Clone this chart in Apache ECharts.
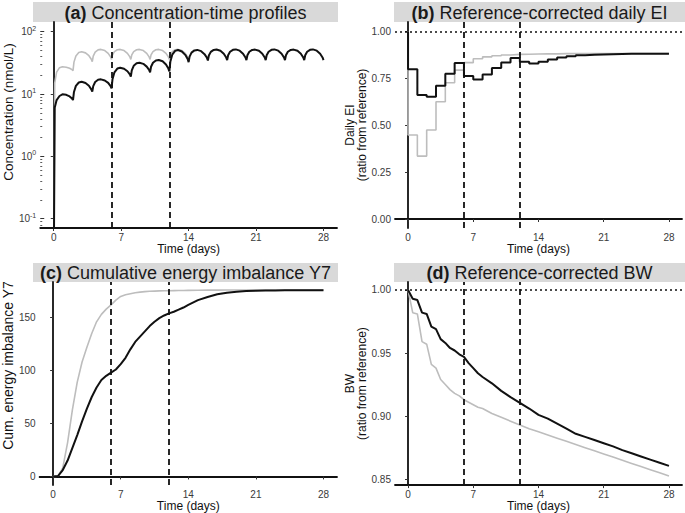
<!DOCTYPE html>
<html>
<head>
<meta charset="utf-8">
<script src="https://cdn.jsdelivr.net/npm/echarts@6/dist/echarts.min.js"></script>
<style>
  html, body { margin: 0; padding: 0; background: #fff; }
  #chart { width: 685px; height: 513px; }
</style>
</head>
<body>
<div id="chart"></div>
<script>
// regimen changes (dashed lines) and shared time ticks
var phaseDays = [6, 12];
var dayTicks = [0, 7, 14, 21, 28];

// (a) concentration-time profiles, nmol/L
var concDays = [
  0, 0.1, 0.3, 0.6, 0.9, 1.3, 1.65, 1.9,
  2, 2.1, 2.3, 2.6, 2.9, 3.3, 3.65, 3.9,
  4, 4.1, 4.3, 4.6, 4.9, 5.3, 5.65, 5.9,
  6, 6.1, 6.3, 6.6, 6.9, 7.3, 7.65, 7.9,
  8, 8.1, 8.3, 8.6, 8.9, 9.3, 9.65, 9.9,
  10, 10.1, 10.3, 10.6, 10.9, 11.3, 11.65, 11.9,
  12, 12.1, 12.3, 12.6, 12.9, 13.3, 13.65, 13.9,
  14, 14.1, 14.3, 14.6, 14.9, 15.3, 15.65, 15.9,
  16, 16.1, 16.3, 16.6, 16.9, 17.3, 17.65, 17.9,
  18, 18.1, 18.3, 18.6, 18.9, 19.3, 19.65, 19.9,
  20, 20.1, 20.3, 20.6, 20.9, 21.3, 21.65, 21.9,
  22, 22.1, 22.3, 22.6, 22.9, 23.3, 23.65, 23.9,
  24, 24.1, 24.3, 24.6, 24.9, 25.3, 25.65, 25.9,
  26, 26.1, 26.3, 26.6, 26.9, 27.3, 27.65, 27.9,
  28
];
var concBlack = [
  0.01, 6.0, 8.0, 9.3, 9.9, 9.7, 9.15, 8.45,
  8.0, 10.8, 13.5, 15.3, 15.7, 15.0, 13.6, 11.9,
  10.9, 13.4, 15.6, 16.9, 17.2, 16.5, 15.1, 13.4,
  12.3, 17.3, 22.3, 25.6, 26.4, 25.4, 23.2, 20.6,
  19.0, 23.9, 28.4, 31.1, 31.8, 30.5, 27.5, 24.4,
  22.3, 27.4, 31.8, 34.6, 35.2, 33.5, 29.7, 25.6,
  23.0, 32.9, 42.7, 49.2, 50.8, 48.2, 42.5, 36.4,
  32.5, 39.8, 46.2, 50.1, 51.0, 48.7, 43.6, 38.1,
  34.5, 41.5, 47.4, 51.0, 51.8, 49.4, 44.2, 38.5,
  35.0, 41.8, 47.6, 51.2, 52.0, 49.6, 44.4, 38.6,
  35.0, 41.8, 47.6, 51.0, 51.6, 49.4, 44.3, 38.6,
  35.0, 41.8, 47.6, 51.2, 52.0, 49.6, 44.4, 38.6,
  35.0, 41.8, 47.6, 51.0, 51.6, 49.4, 44.3, 38.6,
  35.0, 41.8, 47.6, 51.2, 52.0, 49.6, 44.4, 38.6,
  35.0
];
var concGrey = [
  0.01, 15.0, 22.5, 26.5, 27.4, 26.9, 25.9, 24.6,
  23.7, 32.5, 40.9, 46.4, 47.7, 45.7, 41.2, 36.2,
  33.0, 40.5, 47.1, 51.1, 52.0, 49.8, 44.9, 39.4,
  36.0, 42.5, 48.0, 51.3, 52.0, 49.8, 44.9, 39.4,
  36.0, 42.5, 48.0, 51.3, 52.0, 49.8, 44.9, 39.4,
  36.0, 42.5, 48.0, 51.3, 52.0, 49.8, 44.9, 39.4,
  36.0, 42.5, 48.0, 51.3, 52.0, 49.8, 44.9, 39.4,
  34.0
];
var concTicks = [0.1, 1, 10, 100];
var concMinorTicks = [0.08, 0.09, 0.2, 0.3, 0.4, 0.5, 0.6, 0.7, 0.8, 0.9,
  2, 3, 4, 5, 6, 7, 8, 9, 20, 30, 40, 50, 60, 70, 80, 90];

// (b) reference-corrected daily EI (value of each day's step)
var eiDays = [0, 1, 2, 3, 4, 5, 6, 7, 8, 9, 10, 11, 12, 13, 14, 15, 16, 17, 18, 19, 20, 21, 22, 23, 24, 25, 26, 27, 28];
var eiBlack = [1.00, 0.80, 0.662, 0.653, 0.712, 0.775, 0.833, 0.763, 0.745, 0.772, 0.806, 0.836, 0.860, 0.840, 0.831,
  0.840, 0.852, 0.862, 0.869, 0.874, 0.877, 0.879, 0.880, 0.881, 0.882, 0.882, 0.883, 0.883, 0.883];
var eiGrey = [1.00, 0.449, 0.336, 0.475, 0.626, 0.728, 0.795, 0.835, 0.856, 0.866, 0.872, 0.876, 0.879, 0.880, 0.881,
  0.882, 0.882, 0.883, 0.883, 0.884, 0.884, 0.884, 0.884, 0.884, 0.884, 0.884, 0.884, 0.884, 0.884];
var eiTicks = [0, 0.25, 0.5, 0.75, 1];

// (c) cumulative energy imbalance Y7
var cumDays = [0, 0.5, 1, 1.5, 2, 2.5, 3, 3.5, 4, 4.5, 5, 5.5, 6, 6.5, 7, 7.5, 8, 8.5, 9, 9.5, 10,
  10.5, 11, 11.5, 12, 12.5, 13, 13.5, 14, 15, 16, 17, 18, 19, 20, 21, 22, 23, 24, 25, 26, 27, 28];
var cumBlack = [0, 0.3, 6, 15, 27, 39, 52, 64, 75, 84, 91, 95, 98, 101, 106, 112, 120, 127, 132, 137, 142,
  146, 149.5, 152, 154, 155.5, 157.5, 159.5, 162, 166.5, 169.5, 172, 173.5, 174.3, 175, 175.3, 175.5,
  175.6, 175.7, 175.8, 175.8, 175.9, 175.9];
var cumGrey = [0, 0.3, 8, 32, 63, 89, 108, 122, 135, 146, 153, 158, 162, 166.5, 170, 171.5, 172.5, 173.5,
  174, 174.5, 174.8, 175, 175.2, 175.3, 175.4, 175.5, 175.6, 175.6, 175.7, 175.8, 175.9, 175.9,
  176, 176, 176, 176, 176, 176, 176, 176, 176, 176, 176];
var cumTicks = [0, 50, 100, 150];

// (d) reference-corrected body weight
var bwDays = [0, 0.5, 1, 1.5, 2, 2.5, 3, 3.5, 4, 4.5, 5, 5.5, 6, 6.5, 7, 7.5, 8, 9, 10, 11, 12, 13, 14,
  15, 16, 17, 18, 19, 20, 21, 22, 23, 24, 25, 26, 27, 28];
var bwBlack = [1.000, 0.993, 0.992, 0.982, 0.981, 0.971, 0.969, 0.961, 0.958, 0.954, 0.952, 0.949, 0.947,
  0.942, 0.938, 0.934, 0.931, 0.926, 0.920, 0.915, 0.9105, 0.906, 0.901, 0.898, 0.894, 0.890, 0.886,
  0.8835, 0.881, 0.8785, 0.876, 0.873, 0.8705, 0.868, 0.8655, 0.863, 0.8605];
var bwGrey = [1.000, 0.982, 0.981, 0.959, 0.957, 0.941, 0.938, 0.929, 0.925, 0.921, 0.918, 0.916, 0.913,
  0.911, 0.909, 0.907, 0.906, 0.902, 0.899, 0.896, 0.893, 0.890, 0.8875, 0.885, 0.8825, 0.880, 0.8775,
  0.875, 0.8725, 0.870, 0.8675, 0.865, 0.8625, 0.860, 0.8575, 0.855, 0.8525];
var bwTicks = [0.85, 0.9, 0.95, 1];

var panelTitles = ["Concentration-time profiles", "Reference-corrected daily EI",
  "Cumulative energy imbalance Y7", "Reference-corrected BW"];
var panelTags = ["(a)", "(b)", "(c)", "(d)"];

var FONT = "Liberation Sans, Arial, sans-serif";
var BLACK = "#111111";
var GREY = "#bdbdbd";

function pairs(xs, ys) {
  return ys.map(function (y, i) { return [xs[i], y]; });
}

var grids = [
  { left: 34, top: 22, width: 303, height: 206 },
  { left: 395, top: 22, width: 287, height: 206 },
  { left: 34, top: 282, width: 303, height: 204 },
  { left: 395, top: 282, width: 287, height: 204 },
];

function xAxisFor(g) {
  return {
    type: "value", gridIndex: g, min: -1.4, max: 29.4,
    name: "Time (days)", nameLocation: "middle", nameGap: 14,
    nameTextStyle: { fontFamily: FONT, fontSize: 12, color: "#111" },
    axisLine: { lineStyle: { color: "#111", width: 1.8 } },
    axisTick: { customValues: dayTicks, length: 3, lineStyle: { color: "#333", width: 1 } },
    axisLabel: { customValues: dayTicks, margin: 4, fontFamily: FONT, fontSize: 10, color: "#3a3a3a" },
    splitLine: { show: false },
  };
}

function yAxisFor(g, min, max, ticks, name, gap, fmt) {
  return {
    type: "value", gridIndex: g, min: min, max: max,
    name: name, nameLocation: "middle", nameGap: gap, nameRotate: 90,
    nameTextStyle: { fontFamily: FONT, fontSize: 12, color: "#111", lineHeight: 12 },
    axisLine: { lineStyle: { color: "#111", width: 1.8 } },
    axisTick: { customValues: ticks, length: 3, lineStyle: { color: "#333", width: 1 } },
    axisLabel: { customValues: ticks, margin: 4, fontFamily: FONT, fontSize: 10, color: "#3a3a3a", formatter: fmt },
    splitLine: { show: false },
  };
}

var concMin = 0.071, concMax = 143;

var yAxes = [
  {
    type: "log", logBase: 10, gridIndex: 0, min: concMin, max: concMax,
    name: "Concentration (nmol/L)", nameLocation: "middle", nameGap: 20, nameRotate: 90,
    nameTextStyle: { fontFamily: FONT, fontSize: 13.5, color: "#111", padding: [0, 0, 0, 26] },
    axisLine: { lineStyle: { color: "#111", width: 1.8 } },
    axisTick: { customValues: concTicks, length: 3, lineStyle: { color: "#333", width: 1 } },
    axisLabel: {
      customValues: concTicks, margin: 4, fontFamily: FONT, color: "#3a3a3a",
      formatter: function (v) {
        var e = Math.round(Math.log(v) / Math.LN10);
        return "{b|10}{e|" + e + "}";
      },
      rich: {
        b: { fontFamily: FONT, fontSize: 10, color: "#3a3a3a", lineHeight: 14 },
        e: { fontFamily: FONT, fontSize: 7, color: "#3a3a3a", verticalAlign: "top", lineHeight: 8 },
      },
    },
    splitLine: { show: false },
  },
  {
    type: "log", logBase: 10, gridIndex: 0, min: concMin, max: concMax, position: "left",
    axisLine: { show: false }, axisLabel: { show: false }, splitLine: { show: false },
    axisTick: { inside: true, customValues: concTicks, length: 4, lineStyle: { color: "#333", width: 1 } },
  },
  {
    type: "log", logBase: 10, gridIndex: 0, min: concMin, max: concMax, position: "left",
    axisLine: { show: false }, axisLabel: { show: false }, splitLine: { show: false },
    axisTick: { inside: true, customValues: concMinorTicks, length: 2, lineStyle: { color: "#333", width: 0.8 } },
  },
  yAxisFor(1, -0.048, 1.052, eiTicks, "Daily EI\n(ratio from reference)", 24,
    function (v) { return v.toFixed(2); }),
  yAxisFor(2, -8.2, 183.6, cumTicks, "Cum. energy imbalance Y7", 20,
    function (v) { return String(v); }),
  yAxisFor(3, 0.8453, 1.0063, bwTicks, "BW\n(ratio from reference)", 24,
    function (v) { return v.toFixed(2); }),
];
yAxes[4].nameTextStyle.fontSize = 14;
yAxes[4].nameTextStyle.padding = [0, 0, 0, 36];

var phaseMark = {
  silent: true, symbol: "none", animation: false,
  label: { show: false },
  lineStyle: { type: [6, 4], color: "#111", width: 1.8 },
  data: phaseDays.map(function (d) { return { xAxis: d }; }),
};
var refMark = {
  silent: true, symbol: "none", animation: false,
  label: { show: false },
  lineStyle: { type: [2, 3], color: "#111", width: 1.6 },
  data: [{ yAxis: 1 }],
};

function line(x, y, data, color, width, extra) {
  var s = {
    type: "line", xAxisIndex: x, yAxisIndex: y, data: data,
    showSymbol: false, symbol: "none", clip: true,
    lineStyle: { color: color, width: width },
    itemStyle: { color: color },
  };
  for (var k in extra) s[k] = extra[k];
  return s;
}

var series = [
  line(0, 0, pairs(concDays, concGrey), GREY, 1.6, {}),
  line(0, 0, pairs(concDays, concBlack), BLACK, 2, { markLine: phaseMark }),
  line(1, 3, pairs(eiDays, eiGrey), GREY, 1.6, { step: "start", markLine: refMark }),
  line(1, 3, pairs(eiDays, eiBlack), BLACK, 2, { step: "start", markLine: phaseMark }),
  line(2, 4, pairs(cumDays, cumGrey), GREY, 1.6, {}),
  line(2, 4, pairs(cumDays, cumBlack), BLACK, 2, { markLine: phaseMark }),
  line(3, 5, pairs(bwDays, bwGrey), GREY, 1.6, { markLine: refMark }),
  line(3, 5, pairs(bwDays, bwBlack), BLACK, 2, { markLine: phaseMark }),
];

// facet strips
var strips = [
  { x: 33, y: 2, w: 305, h: 20 },
  { x: 394, y: 2, w: 291, h: 20 },
  { x: 33, y: 263, w: 305, h: 19 },
  { x: 394, y: 263, w: 291, h: 19 },
];
var graphics = [];
strips.forEach(function (s, i) {
  graphics.push({ type: "rect", silent: true, shape: { x: s.x, y: s.y, width: s.w, height: s.h }, style: { fill: "#d9d9d9" } });
  graphics.push({
    type: "text", silent: true, x: s.x + s.w / 2, y: s.y + s.h / 2 + 0.5,
    style: {
      text: "{b|" + panelTags[i] + "}{n| " + panelTitles[i] + "}",
      align: "center", verticalAlign: "middle",
      rich: {
        b: { fontFamily: FONT, fontSize: 18, fontWeight: "bold", fill: "#1a1a1a" },
        n: { fontFamily: FONT, fontSize: 18, fill: "#1a1a1a" },
      },
    },
  });
});

var chart = echarts.init(document.getElementById("chart"), null, { renderer: "svg" });
chart.setOption({
  animation: false,
  backgroundColor: "#fff",
  grid: grids,
  xAxis: [xAxisFor(0), xAxisFor(1), xAxisFor(2), xAxisFor(3)],
  yAxis: yAxes,
  series: series,
  graphic: graphics,
});
</script>
</body>
</html>
